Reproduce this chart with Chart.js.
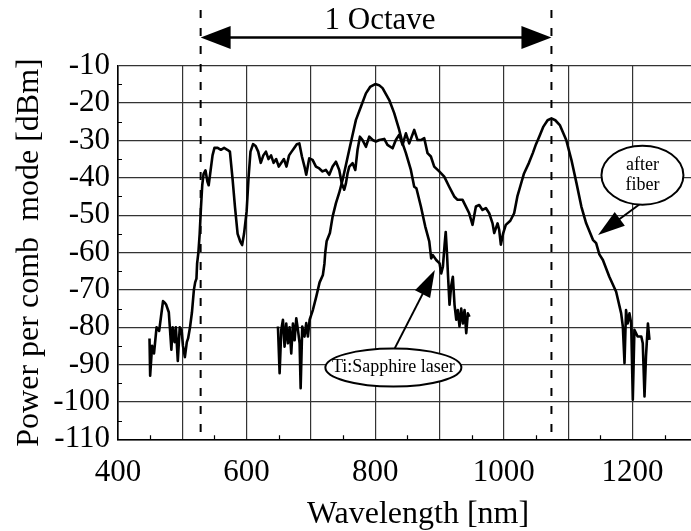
<!DOCTYPE html>
<html>
<head>
<meta charset="utf-8">
<script src="https://cdn.jsdelivr.net/npm/chart.js@4"></script>
<style>
  html, body { margin: 0; padding: 0; background: #fff; }
  canvas { display: block; }
</style>
</head>
<body>
<canvas id="spectrumChart" width="691" height="531"></canvas>
<script>
// Spectrum after the fiber (broadened comb)
const afterFiberNm = [
  449, 450, 453, 456, 460, 464, 467, 470, 473, 475, 479, 481, 483, 485, 488, 490, 493, 496, 499, 501,
  504, 507, 509, 512, 515, 518, 520, 522, 523, 525, 527, 529, 531, 533, 536, 539, 541, 544, 547, 550,
  555, 560, 565, 570, 574, 578, 582, 586, 590, 593, 596, 600, 603, 606, 610, 614, 618, 622, 626, 630,
  634, 638, 642, 646, 650, 654, 658, 662, 666, 670, 674, 678, 682, 686, 690, 692.7, 697.4, 702.6, 707.8, 713,
  718, 723.3, 728.5, 733.7, 738.9, 744, 748, 751.8, 754.4, 757, 759.6, 764.8, 769, 772.5, 776.2, 780.3, 785.5, 790.7, 796, 801,
  806.2, 814, 819, 827, 832, 837.3, 842.5, 847.7, 852.8, 860.6, 865.8, 871, 876.2, 881.3, 886.5, 891.7, 899.5, 907.3, 915, 922.8,
  928, 935.8, 941, 946.1, 951.3, 956.5, 961.7, 966.8, 972, 977.2, 982.4, 985, 990.2, 992.7, 995.3, 999, 1003, 1010, 1016, 1021,
  1026, 1031, 1039, 1045, 1050, 1055, 1061.5, 1068, 1074, 1080, 1087, 1097, 1105, 1113, 1120.5, 1128, 1138.5, 1143.5, 1148.5, 1154,
  1164, 1174.6, 1182.4, 1185, 1187.6, 1190, 1192.5, 1195.3, 1198, 1200.5, 1203, 1208, 1213.7, 1216, 1218.7, 1221, 1224, 1226.4
];
const afterFiberDbm = [
  -83, -93, -85, -87, -80, -81, -77, -73, -73.5, -74, -76, -81, -86, -80, -84, -80, -89, -80, -81, -85,
  -88, -84, -83, -80, -76, -70, -68, -67, -63, -60, -55, -48, -42, -39, -38, -41, -42, -38, -34, -32,
  -32, -32.5, -32, -32.5, -33, -40, -48, -55, -57, -58, -55, -49, -40, -33, -31, -31.5, -33, -36, -34, -33,
  -35, -34, -36, -35, -37, -36, -35, -37, -34, -33, -32, -31, -30.8, -34.3, -37, -39.2, -34.8, -35.2, -37, -37.5,
  -38.3, -37.9, -39.2, -37, -35.7, -37.9, -41.5, -43.2, -41.5, -38.8, -37, -36.1, -37.9, -32.5, -29, -29.9, -31.7, -29, -29.9, -30.3,
  -29.9, -29.6, -31.2, -32.1, -29.9, -28.5, -31.2, -28.1, -30.8, -27.2, -29.9, -29.9, -29.4, -33.4, -34.3, -37, -38.3, -39.7, -42.4, -45,
  -45.9, -45.9, -47.7, -49.5, -52.6, -47.7, -47.3, -48.6, -48.1, -49.5, -52.2, -54.8, -52.2, -53.9, -57.9, -54.8, -52.6, -51.5, -49.5, -45,
  -42, -39, -36, -33.4, -31, -29, -26.3, -24.6, -24.1, -24.6, -25.9, -29.9, -35.2, -41.5, -47.7, -52.2, -56.6, -57.5, -60.5, -62,
  -66.5, -70.5, -76.3, -79.8, -89.6, -75.4, -79, -76.3, -79, -99.4, -80.7, -82.5, -82.5, -84.3, -98.5, -87.8, -79, -83.4
];

// Ti:Sapphire laser spectrum
const tiSapphireNm = [
  648.7, 651.3, 653.9, 656.5, 659, 661.6, 664.2, 666.8, 669.4, 672, 674.6, 677.2, 679.8, 682.4, 684, 686.5, 690, 692.7, 695.3, 698,
  700.5, 703, 708.3, 713.5, 718.6, 721, 722.3, 724.4, 729.5, 733.7, 738.9, 744, 749.2, 754.4, 759.6, 764.8, 770, 777.7, 785.5, 792,
  800, 806, 811.4, 821.8, 829.5, 837.3, 842.5, 847.7, 855.4, 860.6, 864, 871, 877.7, 884, 887, 889.6, 894.8, 900, 902.6, 905.2,
  907.8, 909.6, 911.5, 913, 915.5, 918, 920.7, 923.3, 926, 928.4, 931, 933.7, 936.3, 938.9, 941.5, 944, 946.6
];
const tiSapphireDbm = [
  -79.8, -92.3, -80.7, -78, -85.2, -79, -84.3, -80, -87, -79, -83.5, -77.6, -80.7, -84.3, -96.3, -79.8, -82.5, -78.9, -82.5, -78,
  -76.7, -75.4, -71.8, -68, -66, -63, -60, -57, -54.8, -50.4, -46.8, -44, -40.6, -36.6, -32.5, -28.5, -24.5, -21, -17.4, -15.7,
  -14.9, -15.2, -16, -19.2, -22.7, -27.2, -30.8, -33.4, -37.9, -42.4, -42.8, -47.7, -53, -57, -61.6, -60.7, -62, -62.9, -65.6, -63.8,
  -58, -54.5, -60, -65.6, -74, -69, -66.5, -74, -78, -75.4, -79.8, -75, -79, -75.4, -81.6, -76.3, -77.2
];

// Axis ranges, grid positions and labels
const xMin = 400, xMax = 1291;
const xGridNm = [400, 500, 600, 700, 800, 900, 1000, 1100, 1200];
const xLabelledNm = [400, 600, 800, 1000, 1200];
const xMinorNm = [450, 550, 650, 750, 850, 950, 1050, 1150, 1250];
const yMin = -110, yMax = -10;
const yGridDbm = [-110, -100, -90, -80, -70, -60, -50, -40, -30, -20, -10];
const yMinorDbm = [-105, -95, -85, -75, -65, -55, -45, -35, -25, -15];
const xTitle = 'Wavelength [nm]';
const yTitle = 'Power per comb  mode [dBm]';

// One-octave markers
const octaveEdgesNm = [528.5, 1074];
const octaveLabel = '1 Octave';

// Callouts: label lines, ellipse centre and arrow in data units
const callouts = [
  { lines: ['after', 'fiber'], nm: 1215.5, db: -39.3, rx: 41, ry: 29.5,
    fromNm: 1216.4, fromDb: -46.4, toNm: 1146.5, toDb: -55.3 },
  { lines: ['Ti:Sapphire laser'], nm: 828.2, db: -90.8, rx: 68, ry: 19,
    fromNm: 830.5, fromDb: -85.6, toNm: 892.7, toDb: -64.7 }
];

const FONT = "'Liberation Serif', 'Times New Roman', serif";

function toPoints(xs, ys) {
  return xs.map((x, i) => ({ x: x, y: ys[i] }));
}

function drawArrowHead(ctx, x1, y1, x2, y2, len, half) {
  const a = Math.atan2(y2 - y1, x2 - x1);
  const bx = x2 - len * Math.cos(a), by = y2 - len * Math.sin(a);
  ctx.beginPath();
  ctx.moveTo(x2, y2);
  ctx.lineTo(bx + half * Math.sin(a), by - half * Math.cos(a));
  ctx.lineTo(bx - half * Math.sin(a), by + half * Math.cos(a));
  ctx.closePath();
  ctx.fill();
}

const decorations = {
  id: 'decorations',
  afterDraw(chart) {
    const { ctx, chartArea, scales } = chart;
    const x = scales.x, y = scales.y;
    ctx.save();
    ctx.strokeStyle = '#000';
    ctx.fillStyle = '#000';

    // minor ticks pointing into the plot
    ctx.lineWidth = 1.2;
    ctx.beginPath();
    xMinorNm.forEach(v => {
      const px = Math.round(x.getPixelForValue(v)) + 0.5;
      ctx.moveTo(px, chartArea.bottom);
      ctx.lineTo(px, chartArea.bottom - 4);
    });
    yMinorDbm.forEach(v => {
      const py = Math.round(y.getPixelForValue(v)) + 0.5;
      ctx.moveTo(chartArea.left, py);
      ctx.lineTo(chartArea.left + 4, py);
    });
    ctx.stroke();

    // dashed octave edges
    ctx.lineWidth = 2;
    ctx.setLineDash([8, 10]);
    const edges = octaveEdgesNm.map(v => x.getPixelForValue(v));
    ctx.beginPath();
    edges.forEach(px => {
      ctx.moveTo(px, 10);
      ctx.lineTo(px, chartArea.bottom);
    });
    ctx.stroke();
    ctx.setLineDash([]);

    // octave arrow
    const ay = 37.5;
    ctx.lineWidth = 2.5;
    ctx.beginPath();
    ctx.moveTo(edges[0] + 20, ay);
    ctx.lineTo(edges[1] - 20, ay);
    ctx.stroke();
    drawArrowHead(ctx, edges[1], ay, edges[0], ay, 30, 11.5);
    drawArrowHead(ctx, edges[0], ay, edges[1], ay, 30, 11.5);
    ctx.font = '31px ' + FONT;
    ctx.textAlign = 'center';
    ctx.textBaseline = 'alphabetic';
    ctx.fillText(octaveLabel, (edges[0] + edges[1]) / 2 + 4, 29);

    // callouts
    callouts.forEach(c => {
      const cx = x.getPixelForValue(c.nm), cy = y.getPixelForValue(c.db);
      const fx = x.getPixelForValue(c.fromNm), fy = y.getPixelForValue(c.fromDb);
      const tx = x.getPixelForValue(c.toNm), ty = y.getPixelForValue(c.toDb);
      ctx.lineWidth = 2;
      ctx.beginPath();
      ctx.moveTo(fx, fy);
      const a = Math.atan2(ty - fy, tx - fx);
      ctx.lineTo(tx - 20 * Math.cos(a), ty - 20 * Math.sin(a));
      ctx.stroke();
      drawArrowHead(ctx, fx, fy, tx, ty, 27, 8.5);
      ctx.beginPath();
      ctx.ellipse(cx, cy, c.rx, c.ry, 0, 0, Math.PI * 2);
      ctx.fillStyle = '#fff';
      ctx.fill();
      ctx.stroke();
      ctx.fillStyle = '#000';
      ctx.font = '18px ' + FONT;
      ctx.textAlign = 'center';
      ctx.textBaseline = 'middle';
      const lh = 20;
      c.lines.forEach((t, i) => {
        ctx.fillText(t, cx, cy + (i - (c.lines.length - 1) / 2) * lh);
      });
    });

    // axis titles
    ctx.font = '32px ' + FONT;
    ctx.textAlign = 'center';
    ctx.textBaseline = 'alphabetic';
    ctx.fillText(xTitle, 418, 523);
    ctx.save();
    ctx.translate(38, (chartArea.top + chartArea.bottom) / 2);
    ctx.rotate(-Math.PI / 2);
    ctx.fillText(yTitle, 0, 0);
    ctx.restore();

    ctx.restore();
  }
};

const gridStyle = { color: '#333', lineWidth: 1.2, drawTicks: false };
const borderStyle = { color: '#000', width: 1.6 };

new Chart(document.getElementById('spectrumChart').getContext('2d'), {
  type: 'line',
  data: {
    datasets: [
      { label: 'after fiber', data: toPoints(afterFiberNm, afterFiberDbm) },
      { label: 'Ti:Sapphire laser', data: toPoints(tiSapphireNm, tiSapphireDbm) }
    ]
  },
  options: {
    responsive: false,
    animation: false,
    devicePixelRatio: 1,
    layout: { padding: { top: 65.7, right: 0, bottom: 0, left: 0 } },
    elements: {
      point: { radius: 0 },
      line: { borderColor: '#000', borderWidth: 2.6, tension: 0, borderJoinStyle: 'round', fill: false }
    },
    plugins: {
      legend: { display: false },
      tooltip: { enabled: false }
    },
    scales: {
      x: {
        type: 'linear',
        min: xMin,
        max: xMax,
        grid: gridStyle,
        border: borderStyle,
        afterBuildTicks: s => { s.ticks = xGridNm.map(v => ({ value: v })); },
        afterFit: s => { s.height = 91.7; },
        ticks: {
          autoSkip: false,
          maxRotation: 0,
          minRotation: 0,
          padding: 15,
          color: '#000',
          font: { family: FONT, size: 31 },
          callback: v => (xLabelledNm.includes(v) ? String(v) : '')
        }
      },
      y: {
        min: yMin,
        max: yMax,
        grid: gridStyle,
        border: borderStyle,
        afterBuildTicks: s => { s.ticks = yGridDbm.map(v => ({ value: v })); },
        afterFit: s => { s.width = 118; },
        ticks: {
          autoSkip: false,
          padding: 8,
          color: '#000',
          font: { family: FONT, size: 31, lineHeight: 1 },
          callback: v => String(v)
        }
      }
    }
  },
  plugins: [decorations]
});
</script>
</body>
</html>
